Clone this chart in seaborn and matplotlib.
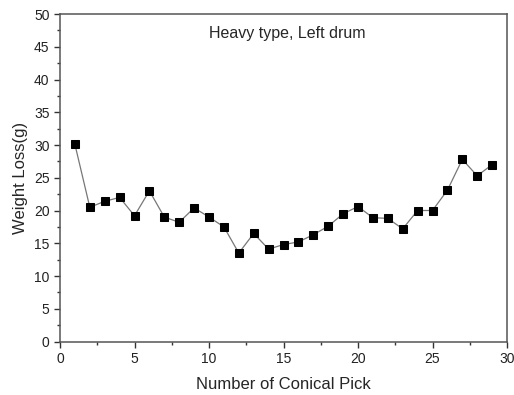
import matplotlib
matplotlib.use('Agg')
import matplotlib.pyplot as plt
import seaborn as sns
import pandas as pd
from matplotlib.ticker import MultipleLocator

# picks and measured weight loss
picks = list(range(1, 30))
weight_loss = [30.1, 20.5, 21.4, 22.0, 19.2, 23.0, 19.0, 18.2, 20.4, 19.0,
               17.5, 13.5, 16.5, 14.1, 14.8, 15.2, 16.3, 17.6, 19.5, 20.6,
               18.9, 18.8, 17.2, 20.0, 20.0, 23.1, 27.8, 25.3, 27.0]

df = pd.DataFrame({'pick': picks, 'loss': weight_loss})

sns.set_style('white')
plt.rcParams['font.family'] = ['Liberation Sans', 'DejaVu Sans']

fig = plt.figure(figsize=(5.14, 3.95), dpi=100)
ax = fig.add_axes([60 / 514, 1 - 341.5 / 395, 447 / 514, 327.5 / 395])

sns.lineplot(data=df, x='pick', y='loss', ax=ax, color='#777777', linewidth=0.9,
             marker='s', markersize=5.5, markerfacecolor='black',
             markeredgecolor='black')

ax.set_xlim(0, 30)
ax.set_ylim(0, 50)
ax.xaxis.set_major_locator(MultipleLocator(5))
ax.xaxis.set_minor_locator(MultipleLocator(2.5))
ax.yaxis.set_major_locator(MultipleLocator(5))
ax.yaxis.set_minor_locator(MultipleLocator(2.5))
ax.tick_params(which='both', direction='out', bottom=True, left=True,
               top=False, right=False, labelsize=10, color='#333333',
               labelcolor='#222222')
ax.tick_params(which='major', length=4, width=1)
ax.tick_params(which='minor', length=2.5, width=1)
for s in ax.spines.values():
    s.set_color('#555555')
    s.set_linewidth(1.1)

ax.set_xlabel('Number of Conical Pick', fontsize=12, labelpad=8)
ax.set_ylabel('Weight Loss(g)', fontsize=12, labelpad=4)
ax.text(0.508, 0.94, 'Heavy type, Left drum', transform=ax.transAxes,
        ha='center', va='center', fontsize=11.5)

fig.savefig('out.png', dpi=100)
